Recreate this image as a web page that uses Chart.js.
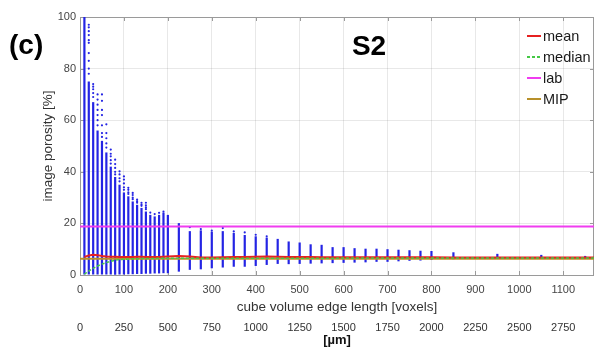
<!DOCTYPE html>
<html>
<head>
<meta charset="utf-8">
<script src="https://cdn.jsdelivr.net/npm/chart.js@4.4.0/dist/chart.umd.min.js"></script>
<style>
  html, body { margin: 0; padding: 0; background: #fff; }
  #wrap { position: relative; width: 598px; height: 347px; }
</style>
</head>
<body>
<div id="wrap"><canvas id="porosityChart" width="598" height="347"></canvas></div>
<script>
// cube edge lengths (voxels) of the sampled sub-volumes
const edgeLengths = [10, 20, 30, 40, 50, 60, 70, 80, 90, 100, 110, 120, 130, 140, 150, 160, 170, 180, 190, 200,
  225, 250, 275, 300, 325, 350, 375, 400, 425, 450, 475, 500, 525, 550, 575, 600, 625, 650, 675, 700, 725, 750, 775, 800,
  850, 950, 1050, 1150];

// dense part of each strip of sub-volume porosities [%]
const stripLow = [0, 0, 0, 0, 0, 0, 0, 0.1, 0.2, 0.2, 0.3, 0.3, 0.4, 0.4, 0.5, 0.5, 0.6, 0.6, 0.7, 0.7,
  1.3, 2.0, 2.2, 2.6, 2.9, 3.2, 3.2, 3.5, 3.9, 4.3, 4.2, 4.3, 4.4, 4.5, 4.6, 4.7, 4.8, 4.9, 5.1, 5.1, 5.3, 5.5, 5.6, 5.8,
  6.1, 6.2, 6.5, 6.6];
const stripHigh = [100, 75, 67, 56, 52, 47.5, 42, 38, 35, 32, 30.5, 28.5, 27.2, 26, 24.6, 23.3, 22.7, 23.3, 24.2, 23.3,
  20.1, 17.0, 17.3, 16.8, 17.0, 16.3, 15.5, 15.0, 14.5, 14.0, 13.0, 12.6, 11.9, 11.7, 10.8, 10.8, 10.4, 10.2, 10.2, 10.0, 9.8, 9.6, 9.4, 9.3,
  8.8, 8.2, 7.8, 7.4];

// sparse points above the dense part
const stripOutliers = [
  [], [97, 96, 94.5, 93, 91, 90, 86, 83, 80, 78], [74, 73, 72, 70.5, 69], [70, 68, 66, 64, 62, 60, 58],
  [70, 67.5, 64, 62, 58, 55, 53.5], [58.4, 55, 53, 51, 49.4], [48.6, 47, 46, 44.5, 43.2], [44.7, 43, 41.5, 40, 39],
  [40.2, 39, 37.5, 36.3], [38.2, 37, 35.5, 34, 33], [33.8, 33, 32, 31.4], [31.8, 31, 30, 29.4],
  [29.2, 28.5, 28], [28, 27.3, 26.8], [28, 27, 26.2, 25.5], [24.2], [23.6], [24.1], [24.6], [],
  [], [18.5], [17.8], [17.2], [18.2], [16.9], [16.5], [15.6], [15.0], [], [], [], [], [], [], [], [], [], [], [], [], [], [], [],
  [], [], [], []
];

const meanPorosity = [7.0, 7.6, 7.8, 7.7, 7.4, 7.2, 7.1, 7.1, 7.0, 7.0, 7.0, 7.0, 7.1, 7.1, 7.0, 7.0, 7.0, 7.0, 7.1, 7.2,
  7.4, 7.2, 6.8, 6.8, 6.9, 7.0, 7.0, 7.1, 7.2, 7.1, 7.0, 7.0, 7.0, 6.9, 6.9, 6.9, 6.9, 6.9, 6.9, 6.9, 6.9, 6.9, 6.9, 6.9,
  6.8, 6.8, 6.8, 6.8];
const medianPorosity = [0.3, 1.5, 2.6, 3.5, 4.2, 4.8, 5.3, 5.7, 6.0, 6.1, 6.2, 6.3, 6.3, 6.4, 6.4, 6.4, 6.4, 6.5, 6.5, 6.5,
  6.5, 6.5, 6.5, 6.5, 6.5, 6.5, 6.5, 6.5, 6.5, 6.5, 6.5, 6.5, 6.5, 6.5, 6.5, 6.6, 6.6, 6.6, 6.6, 6.6, 6.6, 6.6, 6.6, 6.6,
  6.6, 6.6, 6.6, 6.6];
const labPorosity = 18.8;
const mipPorosity = 6.3;

const xMax = 1170;
const umPerVoxel = 2.5;

Chart.defaults.font.family = '"Liberation Sans", Arial, sans-serif';

const blue = 'rgb(36, 36, 228)';

const frameTicks = {
  id: 'frameTicks',
  beforeDatasetsDraw(chart) {
    const { ctx, chartArea: { left, right, top, bottom } } = chart;
    const xs = chart.scales.x, ys = chart.scales.y;
    ctx.save();
    ctx.strokeStyle = '#9a9a9a';
    ctx.lineWidth = 1;
    ctx.beginPath();
    xs.ticks.forEach(t => {
      const px = Math.round(xs.getPixelForValue(t.value)) + 0.5;
      ctx.moveTo(px, top); ctx.lineTo(px, top + 4);
      ctx.moveTo(px, bottom); ctx.lineTo(px, bottom - 4);
    });
    ys.ticks.forEach(t => {
      const py = Math.round(ys.getPixelForValue(t.value)) + 0.5;
      ctx.moveTo(left, py); ctx.lineTo(left + 4, py);
      ctx.moveTo(right, py); ctx.lineTo(right - 4, py);
    });
    ctx.stroke();
    ctx.strokeRect(Math.round(left) + 0.5, Math.round(top) + 0.5, Math.round(right - left) - 1, Math.round(bottom - top));
    ctx.restore();
  }
};

const annotations = {
  id: 'annotations',
  afterDraw(chart) {
    const ctx = chart.ctx;
    ctx.save();
    ctx.fillStyle = '#000';
    ctx.textBaseline = 'middle';
    ctx.font = 'bold 28px "Liberation Sans", Arial, sans-serif';
    ctx.textAlign = 'left';
    ctx.fillText('(c)', 9, 46);
    ctx.textAlign = 'center';
    ctx.fillText('S2', 369, 47);

    // legend
    ctx.font = '14.5px "Liberation Sans", Arial, sans-serif';
    ctx.textAlign = 'left';
    ['mean', 'median', 'lab', 'MIP'].forEach((name, i) => {
      const ds = chart.data.datasets.find(d => d.label === name);
      const y = 36 + i * 21;
      ctx.strokeStyle = ds.borderColor;
      ctx.lineWidth = 2;
      ctx.setLineDash(ds.borderDash || []);
      ctx.beginPath();
      ctx.moveTo(527, y); ctx.lineTo(541, y);
      ctx.stroke();
      ctx.setLineDash([]);
      ctx.fillStyle = '#1a1a1a';
      ctx.fillText(name, 543, y + 1);
    });
    ctx.restore();
  }
};

const plainNumber = v => String(v);

const ctx = document.getElementById('porosityChart').getContext('2d');
const porosityChart = new Chart(ctx, {
  type: 'bar',
  data: {
    datasets: [
      {
        type: 'line', label: 'median',
        data: edgeLengths.map((x, i) => ({ x, y: medianPorosity[i] })).concat([{ x: xMax, y: 6.6 }]),
        borderColor: '#45c845', borderWidth: 1.5, borderDash: [3, 2], pointRadius: 0, order: 1
      },
      {
        type: 'line', label: 'mean',
        data: edgeLengths.map((x, i) => ({ x, y: meanPorosity[i] })).concat([{ x: xMax, y: 6.8 }]),
        borderColor: '#e62020', borderWidth: 2, pointRadius: 0, order: 2
      },
      {
        type: 'line', label: 'MIP',
        data: [{ x: 0, y: mipPorosity }, { x: xMax, y: mipPorosity }],
        borderColor: '#b8902a', borderWidth: 2, pointRadius: 0, order: 3
      },
      {
        type: 'line', label: 'lab',
        data: [{ x: 0, y: labPorosity }, { x: xMax, y: labPorosity }],
        borderColor: '#f03cf0', borderWidth: 2, pointRadius: 0, order: 4
      },
      {
        type: 'scatter', label: 'outliers',
        data: edgeLengths.flatMap((x, i) => stripOutliers[i].map(y => ({ x, y }))),
        backgroundColor: blue, borderWidth: 0, pointRadius: 1.1, order: 5
      },
      {
        type: 'bar', label: 'sub-volumes',
        data: edgeLengths.map((x, i) => ({ x, y: [stripLow[i], stripHigh[i]] })),
        backgroundColor: blue, barThickness: 2.2, inflateAmount: 0, order: 6
      }
    ]
  },
  options: {
    responsive: false,
    animation: false,
    layout: { padding: { top: 17, right: 1, left: 0, bottom: 0 } },
    plugins: {
      legend: { display: false },
      tooltip: { enabled: false }
    },
    scales: {
      x: {
        type: 'linear', position: 'bottom', min: 0, max: xMax, offset: false, weight: 0,
        grid: { color: 'rgba(0,0,0,0.09)', drawTicks: false, offset: false },
        border: { display: false },
        ticks: { stepSize: 100, includeBounds: false, padding: 8, maxRotation: 0, color: '#444', font: { size: 11 }, callback: plainNumber },
        title: { display: true, text: 'cube volume edge length [voxels]', color: '#333', font: { size: 13.5 }, padding: { top: 0, bottom: 0 } },
        afterFit(scale) { scale.height = 40; }
      },
      x2: {
        type: 'linear', position: 'bottom', min: 0, max: xMax * umPerVoxel, offset: false, weight: 1,
        grid: { display: false, drawTicks: false, offset: false },
        border: { display: false },
        ticks: { stepSize: 250, includeBounds: false, padding: 6, maxRotation: 0, autoSkip: false, color: '#333', font: { size: 11 }, callback: plainNumber },
        title: { display: true, text: '[µm]', color: '#111', font: { size: 13, weight: 'bold', lineHeight: 1 }, padding: 0 },
        afterFit(scale) { scale.height = 32; }
      },
      y: {
        min: 0, max: 100,
        grid: { color: 'rgba(0,0,0,0.09)', drawTicks: false },
        border: { display: false },
        ticks: { stepSize: 20, padding: 4, color: '#444', font: { size: 11 } },
        title: { display: true, text: 'image porosity [%]', color: '#333', font: { size: 13.5 }, padding: { top: 40, bottom: 0 } },
        afterFit(scale) { scale.width = 80; }
      }
    }
  },
  plugins: [frameTicks, annotations]
});
</script>
</body>
</html>
